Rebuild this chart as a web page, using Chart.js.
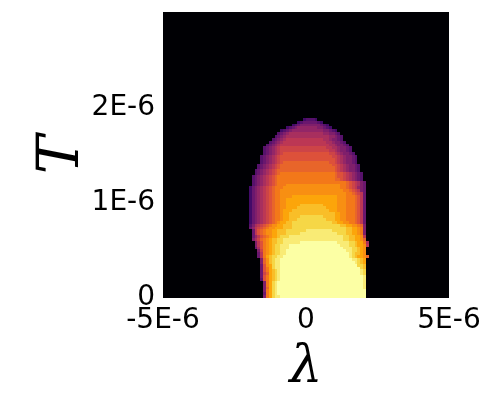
<!DOCTYPE html>
<html>
<head>
<meta charset="utf-8">
<script src="https://cdn.jsdelivr.net/npm/chart.js@4.4.1/dist/chart.umd.min.js"></script>
<style>
html,body{margin:0;padding:0;background:#ffffff;}
#wrap{width:500px;height:400px;}
</style>
</head>
<body>
<div id="wrap"><canvas id="chart" width="500" height="400"></canvas></div>
<script>
// ---------------- data ----------------
const xRange = [-5e-6, 5e-6];
const yRange = [0, 3e-6];
const gridCols = 100;
const gridRows = 100;
const xTickValues = [-5e-6, 0, 5e-6];
const xTickLabels = ['-5E-6', '0', '5E-6'];
const yTickValues = [0, 1e-6, 2e-6];
const yTickLabels = ['0', '1E-6', '2E-6'];
const xTitle = 'λ';
const yTitle = 'T';

// level letters: a = 0.00, b = 0.05, ... u = 1.00 ; a letter followed by a number repeats it
const levelKeys = 'abcdefghijklmnopqrstu';
// heatmap rows, listed from grid row 62 (top of the shape) down to row 0
const heatTopRow = 62;
const heatStartCol = [
  49, 47, 45, 43, 41, 40, 39, 38, 37, 36,
  35, 35, 35, 34, 34, 34, 33, 33, 32, 32,
  31, 31, 31, 31, 30, 30, 30, 30, 30, 30,
  30, 30, 30, 30, 30, 30, 30, 30, 30, 31,
  31, 31, 31, 32, 32, 32, 33, 33, 33, 34,
  34, 34, 34, 34, 34, 34, 34, 35, 35, 35,
  35, 35, 35
];
const heatRowCodes = [
  'efffe',
  'efg5fe',
  'efgh7gfe',
  'efghi7hhgfe',
  'efghi11hhgfe',
  'fghij12iihhgf',
  'fghij15iihgf',
  'fghijk13jjihhgf',
  'fghijk15jjihhgf',
  'fghijk17jjihhgf',
  'fghijkl16kkjjihhgf',
  'fghijkl17kkjihhgf',
  'fghijklm16llkjihhgf',
  'fghijklm18llkjihhgf',
  'fghijklm18mlkjihhgf',
  'fghijklmn16mmlkjihhgf',
  'fghijklmn18mmlkjihhgf',
  'fghijklmn18nmlkjihhgf',
  'fghijklmn19nmlkjihhgf',
  'fghijklmno19nmmlkjihgf',
  'fghijklmno20nmmlkjihgf',
  'fghijklmno20nnmlkjihgf',
  'fghijklmno24nmlkjhg',
  'fghijklmno3p19o2nmlkjhg',
  'eghijklmno3p20o2nmlkihg',
  'eghijklmno2p22o2nmlkhg',
  'eghijklmno2p23o2nmlkg',
  'eghijklmno2p4q16p3o3nmkg',
  'eghijklmno2p2q18p3o3nmkg',
  'eghijklmno2p2q18p3o3nmkg',
  'eghijklmno2p2q5r8q5p3o3nmkg',
  'eghijklmno2p2q4r10q4p3o3nmkg',
  'eghijklmno2pq3r13q3p3o3nmkg',
  'eghijklmno2pq2r16q2p2o3nmkg',
  'eghijklmno2pq2r4s8r4q2p2o3nmkg',
  'eghijklmno2pq2r3s10r3q2p2o3nmkg',
  'eghijklmnopq2r2s14r2q2p2o2nmkg',
  'fhjklmnop2q2r3s17r2q2p2onh',
  'giklmnop2q3r3s19r2q2poh',
  'gkmnop2q2r3s7t9s5r2q2poh',
  'gkmnop2q2r3s5t13s3r2q2poh',
  'gikmnopq2rs3t19s2r2q2pk',
  'hjlnopqr2s2t21s2r2q2pn',
  'hkmopqr2s2t6u13t4s2rq2oj',
  'hkmopqrs2t3u18t3s2rq2pk',
  'gjmopqrs2t3u19t3s2rqp',
  'hlopqrs2t2u21t2s2rqp',
  'gkopqrs2t2u22tsr2qp',
  'gkoqrs2t2u23tsrq2pn',
  'hnprst2u25t2srq',
  'hnprst2u26tsrq',
  'gmpqst2u27s2r',
  'gmoqst2u28sr',
  'gmoqrstu28ts',
  'glnqrstu28ts',
  'gmoqrstu29t',
  'fmoqrstu29t',
  'hoqstu30t',
  'hoqstu30t',
  'hnqstu30t',
  'hoqstu31',
  'goqstu31',
  'hoqst2u30'
];

// inferno colour map stops (0, 0.1, ... 1)
const infernoStops = ['#000004','#160b39','#420a68','#6a176e','#932667','#bc3754',
                      '#dd513a','#f37819','#fca50a','#f6d746','#fcffa4'];

// ---------------- build ----------------
function hexToRgb(h){ return [parseInt(h.slice(1,3),16), parseInt(h.slice(3,5),16), parseInt(h.slice(5,7),16)]; }
const stopRgb = infernoStops.map(hexToRgb);
function inferno(t){
  t = Math.max(0, Math.min(1, t));
  const p = t * (stopRgb.length - 1);
  const i = Math.min(Math.floor(p), stopRgb.length - 2);
  const f = p - i;
  const a = stopRgb[i], b = stopRgb[i+1];
  return 'rgb(' + [0,1,2].map(k => Math.round(a[k] + (b[k]-a[k])*f)).join(',') + ')';
}
function decodeRow(code){
  const out = [];
  let i = 0;
  while (i < code.length){
    const ch = code[i++];
    let num = '';
    while (i < code.length && code[i] >= '0' && code[i] <= '9') num += code[i++];
    const n = num ? parseInt(num, 10) : 1;
    const v = levelKeys.indexOf(ch) / (levelKeys.length - 1);
    for (let k = 0; k < n; k++) out.push(v);
  }
  return out;
}
const dx = (xRange[1] - xRange[0]) / gridCols;
const dy = (yRange[1] - yRange[0]) / gridRows;
const cells = [];
heatRowCodes.forEach((code, idx) => {
  const row = heatTopRow - idx;
  const vals = decodeRow(code);
  vals.forEach((v, k) => {
    const col = heatStartCol[idx] + k;
    cells.push({ x: xRange[0] + (col + 0.5) * dx, y: yRange[0] + (row + 0.5) * dy, v: v });
  });
});

const heatPlugin = {
  id: 'heat',
  beforeDatasetsDraw(chart){
    const { ctx, chartArea, scales } = chart;
    const xs = scales.x, ys = scales.y;
    ctx.save();
    ctx.fillStyle = inferno(0);
    ctx.fillRect(chartArea.left, chartArea.top, chartArea.right - chartArea.left, chartArea.bottom - chartArea.top);
    chart.data.datasets[0].data.forEach(d => {
      const x0 = Math.round(xs.getPixelForValue(d.x - dx/2));
      const x1 = Math.round(xs.getPixelForValue(d.x + dx/2));
      const y0 = Math.round(ys.getPixelForValue(d.y + dy/2));
      const y1 = Math.round(ys.getPixelForValue(d.y - dy/2));
      ctx.fillStyle = inferno(d.v);
      ctx.fillRect(x0, y0, x1 - x0, y1 - y0);
    });
    ctx.restore();
  }
};

function labelFor(values, labels, v){
  for (let i = 0; i < values.length; i++) if (Math.abs(values[i] - v) < 1e-12) return labels[i];
  return '';
}

new Chart(document.getElementById('chart'), {
  type: 'scatter',
  data: { datasets: [{ data: cells, pointRadius: 0, pointHoverRadius: 0, showLine: false }] },
  plugins: [heatPlugin],
  options: {
    responsive: false,
    animation: false,
    events: [],
    layout: { padding: { left: 0, right: 51, top: 12, bottom: 0 } },
    plugins: { legend: { display: false }, tooltip: { enabled: false } },
    scales: {
      x: {
        type: 'linear', min: xRange[0], max: xRange[1],
        afterBuildTicks: s => { s.ticks = xTickValues.map(v => ({ value: v })); },
        afterFit: s => { s.height = 102; s.paddingLeft = 0; s.paddingRight = 0; },
        ticks: { autoSkip: false, maxRotation: 0, padding: 6, color: '#000',
                 font: { family: 'DejaVu Sans', size: 28 },
                 callback: v => labelFor(xTickValues, xTickLabels, v) },
        grid: { display: false, drawTicks: false },
        border: { display: false },
        title: { display: true, text: xTitle, color: '#000',
                 font: { family: 'DejaVu Serif', style: 'italic', size: 52 },
                 padding: { top: 0, bottom: 0 } }
      },
      y: {
        type: 'linear', min: yRange[0], max: yRange[1],
        afterBuildTicks: s => { s.ticks = yTickValues.map(v => ({ value: v })); },
        afterFit: s => { s.width = 163; s.paddingTop = 0; s.paddingBottom = 0; },
        ticks: { autoSkip: false, padding: 8, color: '#000',
                 font: { family: 'DejaVu Sans', size: 28 },
                 callback: v => labelFor(yTickValues, yTickLabels, v) },
        grid: { display: false, drawTicks: false },
        border: { display: false },
        title: { display: true, text: yTitle, color: '#000',
                 font: { family: 'DejaVu Serif', style: 'italic', size: 58 },
                 padding: { top: 28, bottom: 0 } }
      }
    }
  }
});
</script>
</body>
</html>
